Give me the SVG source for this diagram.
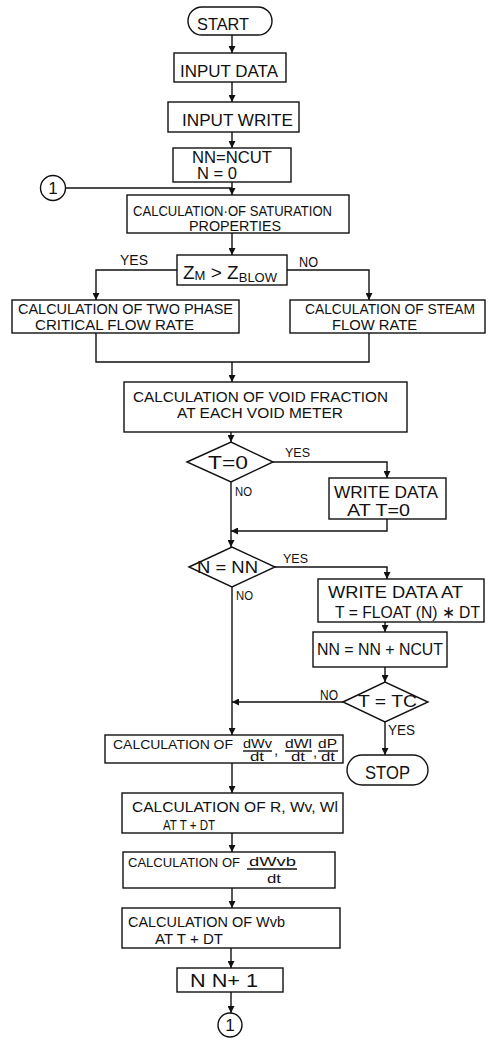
<svg xmlns="http://www.w3.org/2000/svg" width="497" height="1040" viewBox="0 0 497 1040">
<style>
.b{fill:#fff;stroke:#111;stroke-width:1.4}
.c{fill:none;stroke:#111;stroke-width:1.4}
text{font-family:"Liberation Sans",Arial,sans-serif;fill:#111}
.t13{font-size:15px}
.t15{font-size:16px}
.t16{font-size:17px}
.t17{font-size:18px}
.s{font-size:13px}
.f{font-size:13px}
</style>
<defs>
<marker id="ah" viewBox="0 0 10 10" refX="10" refY="5" markerWidth="7" markerHeight="7" markerUnits="userSpaceOnUse" orient="auto">
<path d="M0,0 L10,5 L0,10 z" fill="#111"/>
</marker>
</defs>
<rect width="497" height="1040" fill="#fff"/>
<g id="connectors">
<path class="c" d="M232,35 V53" marker-end="url(#ah)"/>
<path class="c" d="M232,82 V102" marker-end="url(#ah)"/>
<path class="c" d="M232,132 V148" marker-end="url(#ah)"/>
<path class="c" d="M232,182 V195" marker-end="url(#ah)"/>
<path class="c" d="M66,188 H232"/>
<path class="c" d="M232,233 V255" marker-end="url(#ah)"/>
<path class="c" d="M177,270 H96 V300" marker-end="url(#ah)"/>
<path class="c" d="M287,270 H369 V300" marker-end="url(#ah)"/>
<path class="c" d="M96,333 V362 H369 V333"/>
<path class="c" d="M232,362 V382" marker-end="url(#ah)"/>
<path class="c" d="M231,432 V442" marker-end="url(#ah)"/>
<path class="c" d="M273,462 H387 V478" marker-end="url(#ah)"/>
<path class="c" d="M387,519 V531 H231" marker-end="url(#ah)"/>
<path class="c" d="M231,482 V547" marker-end="url(#ah)"/>
<path class="c" d="M275,567 H387 V579" marker-end="url(#ah)"/>
<path class="c" d="M385,622 V632" marker-end="url(#ah)"/>
<path class="c" d="M385,667 V682" marker-end="url(#ah)"/>
<path class="c" d="M343,702 H232" marker-end="url(#ah)"/>
<path class="c" d="M232,587 V735" marker-end="url(#ah)"/>
<path class="c" d="M385,722 V755" marker-end="url(#ah)"/>
<path class="c" d="M232,763 V793" marker-end="url(#ah)"/>
<path class="c" d="M232,833 V852" marker-end="url(#ah)"/>
<path class="c" d="M232,888 V908" marker-end="url(#ah)"/>
<path class="c" d="M231,948 V968" marker-end="url(#ah)"/>
<path class="c" d="M231,992 V1013" marker-end="url(#ah)"/>
</g>
<g id="labels">
<text class="t13" x="120" y="265" textLength="28" lengthAdjust="spacingAndGlyphs">YES</text>
<text class="t13" x="299" y="267" textLength="19" lengthAdjust="spacingAndGlyphs">NO</text>
<text class="s" x="285" y="457" textLength="25" lengthAdjust="spacingAndGlyphs">YES</text>
<text class="s" x="235" y="496" textLength="17" lengthAdjust="spacingAndGlyphs">NO</text>
<text class="s" x="283" y="563" textLength="25" lengthAdjust="spacingAndGlyphs">YES</text>
<text class="s" x="236" y="600" textLength="17" lengthAdjust="spacingAndGlyphs">NO</text>
<text class="t13" x="320" y="700" textLength="18" lengthAdjust="spacingAndGlyphs">NO</text>
<text class="t13" x="388" y="735" textLength="27" lengthAdjust="spacingAndGlyphs">YES</text>
</g>
<g id="start">
<rect class="b" x="188" y="7" width="84" height="28" rx="14"/>
<text class="t16" x="197" y="30" textLength="52" lengthAdjust="spacingAndGlyphs">START</text>
</g>
<g id="input-data">
<rect class="b" x="174" y="53" width="112" height="29"/>
<text class="t16" x="180" y="77" textLength="98" lengthAdjust="spacingAndGlyphs">INPUT DATA</text>
</g>
<g id="input-write">
<rect class="b" x="168" y="102" width="131" height="30"/>
<text class="t16" x="182" y="126" textLength="111" lengthAdjust="spacingAndGlyphs">INPUT WRITE</text>
</g>
<g id="init">
<rect class="b" x="173" y="148" width="118" height="34"/>
<text class="t15" x="192" y="163" textLength="80" lengthAdjust="spacingAndGlyphs">NN=NCUT</text>
<text class="t15" x="197" y="179" textLength="40" lengthAdjust="spacingAndGlyphs">N = 0</text>
</g>
<g id="connector-in">
<circle class="b" cx="53" cy="188" r="12.5"/>
<text class="t16" x="53" y="194" text-anchor="middle">1</text>
</g>
<g id="saturation">
<rect class="b" x="127" y="195" width="222" height="38"/>
<text class="t13" x="133" y="216" textLength="199" lengthAdjust="spacingAndGlyphs">CALCULATION·OF SATURATION</text>
<text class="t13" x="189" y="231" textLength="92" lengthAdjust="spacingAndGlyphs">PROPERTIES</text>
</g>
<g id="zm-decision">
<rect class="b" x="177" y="255" width="110" height="30"/>
<text x="183" y="279"><tspan font-size="19">Z</tspan><tspan font-size="13" dy="1">M</tspan><tspan font-size="19" dy="-1"> &gt; Z</tspan><tspan font-size="13" dy="3">BLOW</tspan></text>
</g>
<g id="two-phase">
<rect class="b" x="12" y="300" width="227" height="33"/>
<text class="t13" x="18" y="314" textLength="215" lengthAdjust="spacingAndGlyphs">CALCULATION OF TWO PHASE</text>
<text class="t13" x="35" y="330" textLength="159" lengthAdjust="spacingAndGlyphs">CRITICAL FLOW RATE</text>
</g>
<g id="steam">
<rect class="b" x="290" y="300" width="195" height="33"/>
<text class="t13" x="305" y="314" textLength="170" lengthAdjust="spacingAndGlyphs">CALCULATION OF STEAM</text>
<text class="t13" x="332" y="330" textLength="85" lengthAdjust="spacingAndGlyphs">FLOW RATE</text>
</g>
<g id="void">
<rect class="b" x="124" y="382" width="283" height="50"/>
<text class="t13" x="133" y="402" textLength="255" lengthAdjust="spacingAndGlyphs">CALCULATION OF VOID FRACTION</text>
<text class="t13" x="177" y="418" textLength="166" lengthAdjust="spacingAndGlyphs">AT EACH VOID METER</text>
</g>
<g id="t0-decision">
<polygon class="b" points="187,462 231,442 273,462 231,482"/>
<text class="t17" x="208" y="469" textLength="40" lengthAdjust="spacingAndGlyphs">T=0</text>
</g>
<g id="write-t0">
<rect class="b" x="329" y="478" width="117" height="41"/>
<text class="t16" x="334" y="498" textLength="104" lengthAdjust="spacingAndGlyphs">WRITE DATA</text>
<text class="t16" x="347" y="516" textLength="63" lengthAdjust="spacingAndGlyphs">AT T=0</text>
</g>
<g id="nn-decision">
<polygon class="b" points="189,567 232,547 275,567 232,587"/>
<text class="t16" x="197" y="573" textLength="61" lengthAdjust="spacingAndGlyphs">N = NN</text>
</g>
<g id="write-float">
<rect class="b" x="318" y="579" width="166" height="43"/>
<text class="t16" x="328" y="598" textLength="135" lengthAdjust="spacingAndGlyphs">WRITE DATA AT</text>
<text class="t16" x="335" y="618" textLength="145" lengthAdjust="spacingAndGlyphs">T = FLOAT (N) ∗ DT</text>
</g>
<g id="nn-update">
<rect class="b" x="313" y="632" width="134" height="35"/>
<text class="t16" x="317" y="655" textLength="126" lengthAdjust="spacingAndGlyphs">NN = NN + NCUT</text>
</g>
<g id="tc-decision">
<polygon class="b" points="343,702 385,682 428,702 385,722"/>
<text class="t15" x="358" y="707" textLength="59" lengthAdjust="spacingAndGlyphs">T = TC</text>
</g>
<g id="stop">
<rect class="b" x="347" y="755" width="81" height="30" rx="15"/>
<text class="t17" x="365" y="779" textLength="45" lengthAdjust="spacingAndGlyphs">STOP</text>
</g>
<g id="derivatives">
<rect class="b" x="105" y="735" width="238" height="28"/>
<text x="113" y="749" font-size="13.5" textLength="120" lengthAdjust="spacingAndGlyphs">CALCULATION OF</text>
<text class="f" x="243" y="748" textLength="29" lengthAdjust="spacingAndGlyphs">dWv</text>
<line class="c" x1="243" y1="751" x2="272" y2="751" stroke-width="1"/>
<text class="f" x="250" y="761" textLength="14" lengthAdjust="spacingAndGlyphs">dt</text>
<text class="t13" x="274" y="755">,</text>
<text class="f" x="285" y="748" textLength="27" lengthAdjust="spacingAndGlyphs">dWl</text>
<line class="c" x1="285" y1="751" x2="312" y2="751" stroke-width="1"/>
<text class="f" x="291" y="761" textLength="14" lengthAdjust="spacingAndGlyphs">dt</text>
<text class="t13" x="313" y="757">,</text>
<text class="f" x="318" y="748" textLength="19" lengthAdjust="spacingAndGlyphs">dP</text>
<line class="c" x1="318" y1="751" x2="338" y2="751" stroke-width="1"/>
<text class="f" x="321" y="761" textLength="14" lengthAdjust="spacingAndGlyphs">dt</text>
</g>
<g id="r-wv-wl">
<rect class="b" x="122" y="793" width="221" height="40"/>
<text class="t13" x="132" y="812" textLength="206" lengthAdjust="spacingAndGlyphs">CALCULATION OF R, Wv, Wl</text>
<text class="t13" x="163" y="830" textLength="52" lengthAdjust="spacingAndGlyphs">AT  T + DT</text>
</g>
<g id="dwvb">
<rect class="b" x="123" y="852" width="212" height="36"/>
<text x="128" y="867" font-size="13" textLength="112" lengthAdjust="spacingAndGlyphs">CALCULATION OF</text>
<text class="f" x="249" y="866" textLength="47" lengthAdjust="spacingAndGlyphs">dWvb</text>
<line class="c" x1="247" y1="869" x2="297" y2="869" stroke-width="1"/>
<text class="f" x="267" y="883" textLength="14" lengthAdjust="spacingAndGlyphs">dt</text>
</g>
<g id="wvb">
<rect class="b" x="122" y="908" width="218" height="40"/>
<text class="t13" x="128" y="927" textLength="157" lengthAdjust="spacingAndGlyphs">CALCULATION OF Wvb</text>
<text class="t13" x="155" y="944" textLength="68" lengthAdjust="spacingAndGlyphs">AT  T + DT</text>
</g>
<g id="increment">
<rect class="b" x="177" y="968" width="106" height="24"/>
<text class="t17" x="190" y="987" textLength="68" lengthAdjust="spacingAndGlyphs">N  N+ 1</text>
</g>
<g id="connector-out">
<circle class="b" cx="230" cy="1025" r="12"/>
<text class="t16" x="230" y="1031" text-anchor="middle">1</text>
</g>
</svg>
